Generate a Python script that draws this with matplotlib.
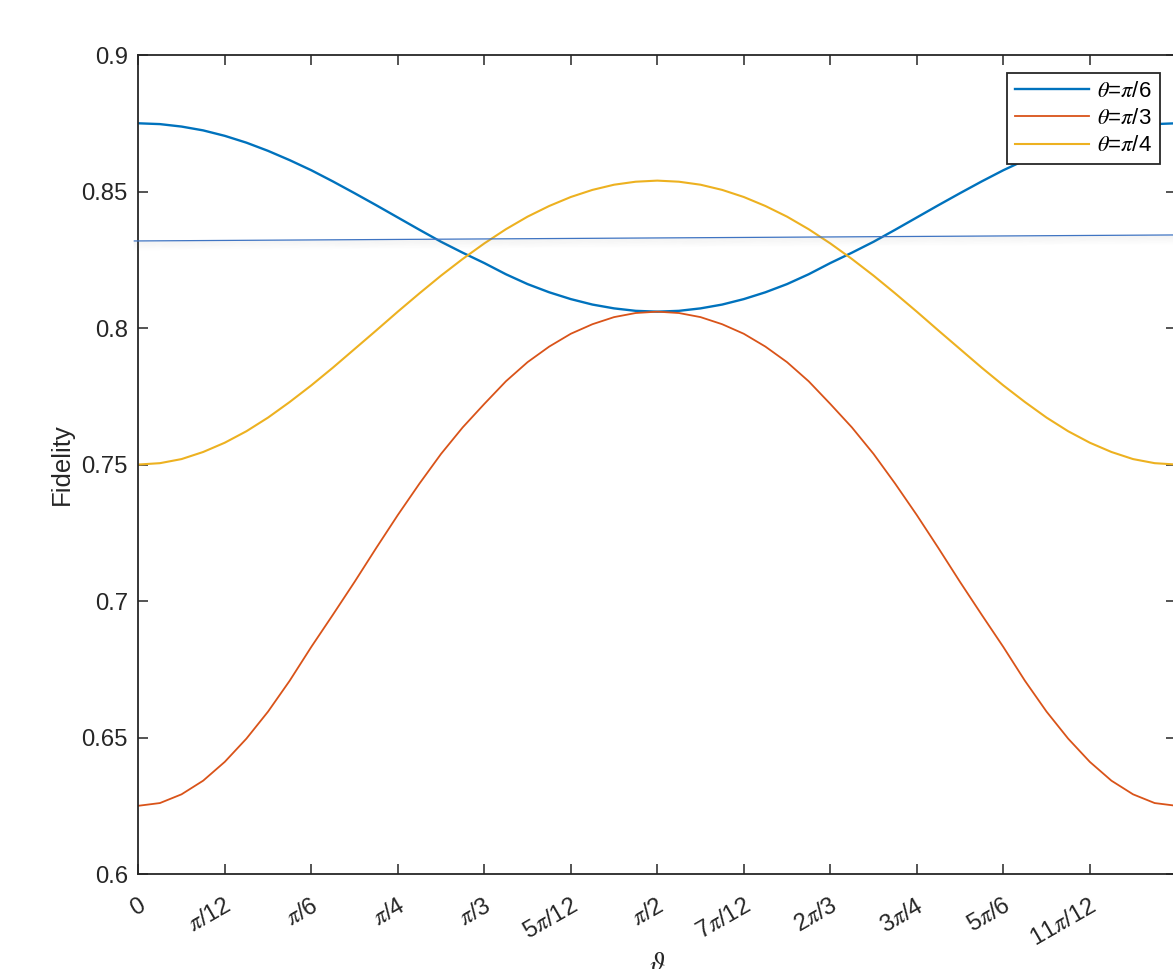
import numpy as np
import matplotlib.pyplot as plt
from matplotlib.transforms import offset_copy

plt.rcParams['font.family'] = ['Liberation Sans', 'DejaVu Sans']
plt.rcParams['mathtext.fontset'] = 'stix'

# phase in steps of pi/48 from 0 to pi/2; curves are mirror-symmetric about pi/2
half_steps = list(range(25))
fid_pi6_half = [0.8750, 0.8747, 0.8738, 0.8724, 0.8704, 0.8679, 0.8649, 0.8615, 0.8578,
                0.8537, 0.8494, 0.8450, 0.8405, 0.8360, 0.8316, 0.8276, 0.8238, 0.8197,
                0.8161, 0.8131, 0.8106, 0.8086, 0.8072, 0.8063, 0.8060]
fid_pi3_half = [0.6250, 0.6260, 0.6292, 0.6342, 0.6411, 0.6496, 0.6595, 0.6708, 0.6832,
                0.6950, 0.7070, 0.7194, 0.7315, 0.7430, 0.7539, 0.7636, 0.7722, 0.7805,
                0.7875, 0.7932, 0.7979, 0.8014, 0.8040, 0.8055, 0.8060]
fid_pi4_half = [0.7500, 0.7505, 0.7520, 0.7546, 0.7580, 0.7622, 0.7672, 0.7729, 0.7790,
                0.7855, 0.7923, 0.7991, 0.8060, 0.8127, 0.8192, 0.8253, 0.8310, 0.8362,
                0.8408, 0.8447, 0.8480, 0.8506, 0.8525, 0.8536, 0.8540]
series_labels = [r'$\theta$=$\pi$/6', r'$\theta$=$\pi$/3', r'$\theta$=$\pi$/4']
colors = ['#0072BD', '#D95319', '#EDB120']

xtick_labels = ['0', r'$\pi$/12', r'$\pi$/6', r'$\pi$/4', r'$\pi$/3', r'5$\pi$/12',
                r'$\pi$/2', r'7$\pi$/12', r'2$\pi$/3', r'3$\pi$/4', r'5$\pi$/6', r'11$\pi$/12']
yticks = [0.6, 0.65, 0.7, 0.75, 0.8, 0.85, 0.9]
ytick_labels = ['0.6', '0.65', '0.7', '0.75', '0.8', '0.85', '0.9']

# thin stray line across the screenshot (ends, in data units)
stray_y = [0.8319, 0.8341]


def mirror(half):
    return half + half[-2::-1]


steps = mirror(half_steps)
x = np.arange(len(steps)) * np.pi / 48

fig = plt.figure(figsize=(11.73, 9.69), dpi=100)
ax = fig.add_axes([0.1179, 0.0980, 0.8849, 0.8452])

lws = [1.7, 1.3, 1.5]
for half, c, lab, lw in zip([fid_pi6_half, fid_pi3_half, fid_pi4_half], colors,
                            series_labels, lws):
    ax.plot(x, mirror(half), color=c, lw=lw, label=lab)

ax.set_xlim(0, np.pi)
ax.set_ylim(0.6, 0.9)
ax.set_xticks(np.arange(12) * np.pi / 12)
ax.set_xticklabels(xtick_labels, rotation=30, ha='right', va='top',
                   rotation_mode='anchor')
ax.set_yticks(yticks)
ax.set_yticklabels(ytick_labels)

for s in ax.spines.values():
    s.set_color('#262626')
    s.set_linewidth(1.3)
ax.tick_params(direction='in', length=7.5, width=1.1, color='#262626',
               labelsize=17.2, labelcolor='#262626', top=True, right=True)
ax.tick_params(axis='x', pad=15)
ax.tick_params(axis='y', pad=7.5)

ax.set_ylabel('Fidelity', fontsize=18.5, color='#262626')
ax.yaxis.set_label_coords(-0.062, 0.5)
ax.set_xlabel(r'$\vartheta$', fontsize=20, color='#262626')
ax.xaxis.set_label_coords(0.5, -0.094)

# stray line with its soft shadow
for i in range(1, 10):
    tr = offset_copy(ax.transData, fig=fig, y=-i * 0.7, units='points')
    ax.plot([-0.012, np.pi], stray_y, color='#808080', lw=1.0,
            alpha=0.07 * (1 - i / 10), transform=tr, clip_on=False, zorder=4)
ax.plot([-0.012, np.pi], stray_y, color='#3f74c2', lw=0.9, clip_on=False, zorder=5)

leg = ax.legend(loc='upper right', bbox_to_anchor=(0.9843, 0.978), borderaxespad=0,
                fontsize=16, handlelength=3.3, handletextpad=0.4, labelspacing=0.28,
                fancybox=False, framealpha=1, edgecolor='#262626', borderpad=0.35)
leg.get_frame().set_linewidth(1.3)
leg.set_zorder(6)

fig.savefig('out.png', dpi=100)
